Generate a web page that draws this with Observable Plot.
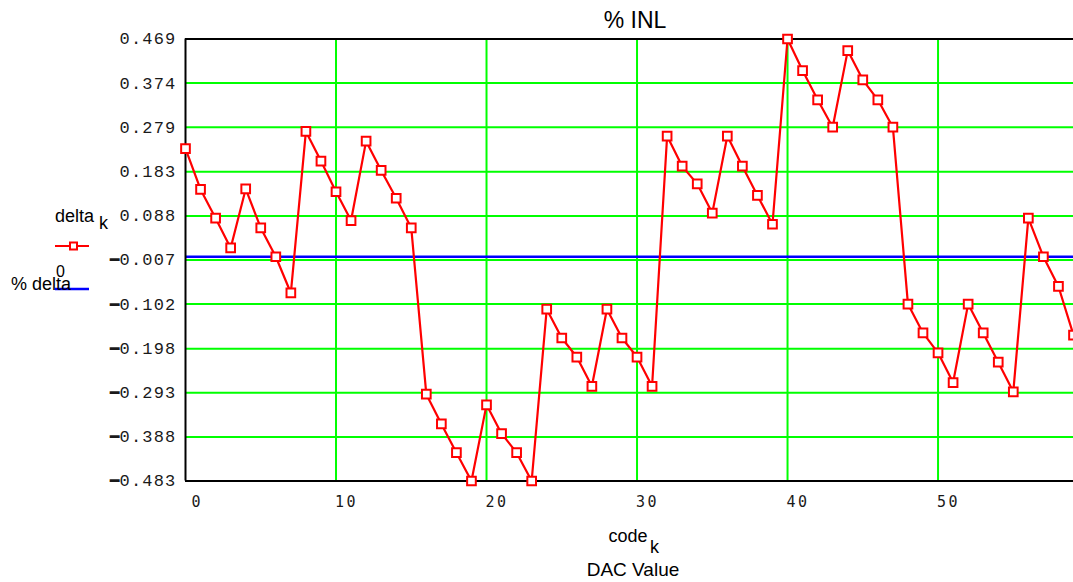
<!DOCTYPE html>
<html>
<head>
<meta charset="utf-8">
<script src="https://cdn.jsdelivr.net/npm/d3@7"></script>
<script src="https://cdn.jsdelivr.net/npm/@observablehq/plot@0.6"></script>
<style>
  html, body { margin: 0; padding: 0; background: #fff; }
  #chart { position: relative; width: 1073px; height: 582px; overflow: hidden; }
</style>
</head>
<body>
<div id="chart"></div>
<script>
// ---- data ----
const codes = [0,1,2,3,4,5,6,7,8,9,10,11,12,13,14,15,16,17,18,19,20,21,22,23,24,25,26,27,28,29,
               30,31,32,33,34,35,36,37,38,39,40,41,42,43,44,45,46,47,48,49,50,51,52,53,54,55,56,57,58,59];
const delta = [0.233, 0.145, 0.083, 0.019, 0.146, 0.062, 0.000, -0.078, 0.270, 0.206,
               0.140, 0.078, 0.249, 0.186, 0.126, 0.062, -0.296, -0.360, -0.422, -0.483,
               -0.319, -0.381, -0.422, -0.483, -0.113, -0.175, -0.216, -0.279, -0.113, -0.175,
               -0.216, -0.279, 0.260, 0.195, 0.157, 0.094, 0.260, 0.195, 0.132, 0.070,
               0.469, 0.401, 0.338, 0.279, 0.444, 0.381, 0.338, 0.279, -0.102, -0.164,
               -0.207, -0.271, -0.102, -0.164, -0.227, -0.291, 0.083, 0.000, -0.064, -0.169];
const zeroLine = [0];
const yTickValues = [0.469, 0.374, 0.279, 0.183, 0.088, -0.007, -0.102, -0.198, -0.293, -0.388, -0.483];
const yTickLabels = ["0.469", "0.374", "0.279", "0.183", "0.088", "\u22120.007", "\u22120.102", "\u22120.198", "\u22120.293", "\u22120.388", "\u22120.483"];
const xTickValues = [0, 10, 20, 30, 40, 50];
const xDomain = [0, 59];
const yDomain = [-0.483, 0.469];

const data = codes.map((c, i) => ({code: c, delta: delta[i]}));

const W = 1073, H = 582;
const mL = 185, mR = 0, mT = 38.5, mB = 101.5;
const GREEN = "#00ff00", RED = "#ff0000", BLUE = "#0000ff";
const sans = "'Liberation Sans', Arial, sans-serif";
const mono = "'Liberation Mono', 'Courier New', monospace";
const xmono = "'DejaVu Sans Mono', monospace";

const plot = Plot.plot({
  width: W, height: H,
  marginLeft: mL, marginRight: mR, marginTop: mT, marginBottom: mB,
  x: {domain: xDomain},
  y: {domain: yDomain},
  style: {fontFamily: sans, background: "#fff", color: "#000"},
  marks: [
    Plot.ruleY(yTickValues, {stroke: GREEN, strokeWidth: 2}),
    Plot.ruleX(xTickValues.filter(d => d > 0), {stroke: GREEN, strokeWidth: 2}),
    Plot.ruleY(zeroLine, {stroke: BLUE, strokeWidth: 2.5}),
    Plot.ruleY([yDomain[1], yDomain[0]], {stroke: "#000", strokeWidth: 2}),
    Plot.ruleX([xDomain[0]], {stroke: "#000", strokeWidth: 2}),
    Plot.line(data, {x: "code", y: "delta", stroke: RED, strokeWidth: 2.2}),
    Plot.dot(data, {x: "code", y: "delta", symbol: "square", r: 4.9, stroke: RED, strokeWidth: 2, fill: "#fff"}),
    Plot.axisY({ticks: yTickValues, tickSize: 0, tickPadding: 9, label: null,
      tickFormat: d => yTickLabels[yTickValues.indexOf(d)],
      fontFamily: mono, fontSize: 17}),
    Plot.axisX({ticks: xTickValues.filter(d => d > 0), tickSize: 0, tickPadding: 15, label: null,
      textAnchor: "start", dx: -1, fontFamily: xmono, fontSize: 15}),
    Plot.axisX({ticks: [0], tickSize: 0, tickPadding: 15, label: null,
      textAnchor: "start", dx: 6, fontFamily: xmono, fontSize: 15})
  ]
});

document.getElementById("chart").appendChild(plot);

const svg = d3.select(plot);
// tick label styling
svg.selectAll("g[aria-label='y-axis tick label'] text").each(function() {
  const t = d3.select(this);
  t.style("letter-spacing", "1.2px").attr("fill", "#1a1a1a");
  const s = t.text();
  if (s.startsWith("\u2212")) {
    t.text(null);
    t.append("tspan").attr("font-family", xmono).attr("font-size", 16).style("letter-spacing", "0px").text("\u2501");
    t.append("tspan").text(s.slice(1));
  }
});
svg.selectAll("g[aria-label='x-axis tick label'] text").style("letter-spacing", "2.5px").attr("fill", "#1a1a1a");

// title
svg.append("text").attr("x", 635).attr("y", 28).attr("text-anchor", "middle")
  .attr("font-family", sans).attr("font-size", 23).attr("fill", "#000").text("% INL");

// x-axis label
const xl = svg.append("g").attr("font-family", sans).attr("fill", "#000").attr("text-anchor", "start");
xl.append("text").attr("x", 628).attr("y", 542).attr("text-anchor", "middle").attr("font-size", 18).text("code");
xl.append("text").attr("x", 650).attr("y", 553).attr("font-size", 18).text("k");
xl.append("text").attr("x", 633).attr("y", 576).attr("text-anchor", "middle").attr("font-size", 19).text("DAC Value");

// legend
const lg = svg.append("g").attr("font-family", sans).attr("fill", "#000").attr("text-anchor", "start");
lg.append("text").attr("x", 55).attr("y", 222).attr("font-size", 18).text("delta");
lg.append("text").attr("x", 99).attr("y", 229).attr("font-size", 18).text("k");
lg.append("line").attr("x1", 55).attr("x2", 89).attr("y1", 246).attr("y2", 246).attr("stroke", RED).attr("stroke-width", 2);
lg.append("rect").attr("x", 70).attr("y", 242.5).attr("width", 7).attr("height", 7).attr("fill", "#fff").attr("stroke", RED).attr("stroke-width", 2);
lg.append("text").attr("x", 56).attr("y", 277).attr("font-size", 16).text("0");
lg.append("line").attr("x1", 55).attr("x2", 89).attr("y1", 289).attr("y2", 289).attr("stroke", BLUE).attr("stroke-width", 2.5);
lg.append("text").attr("x", 11).attr("y", 290).attr("font-size", 18).text("% delta");
</script>
</body>
</html>
